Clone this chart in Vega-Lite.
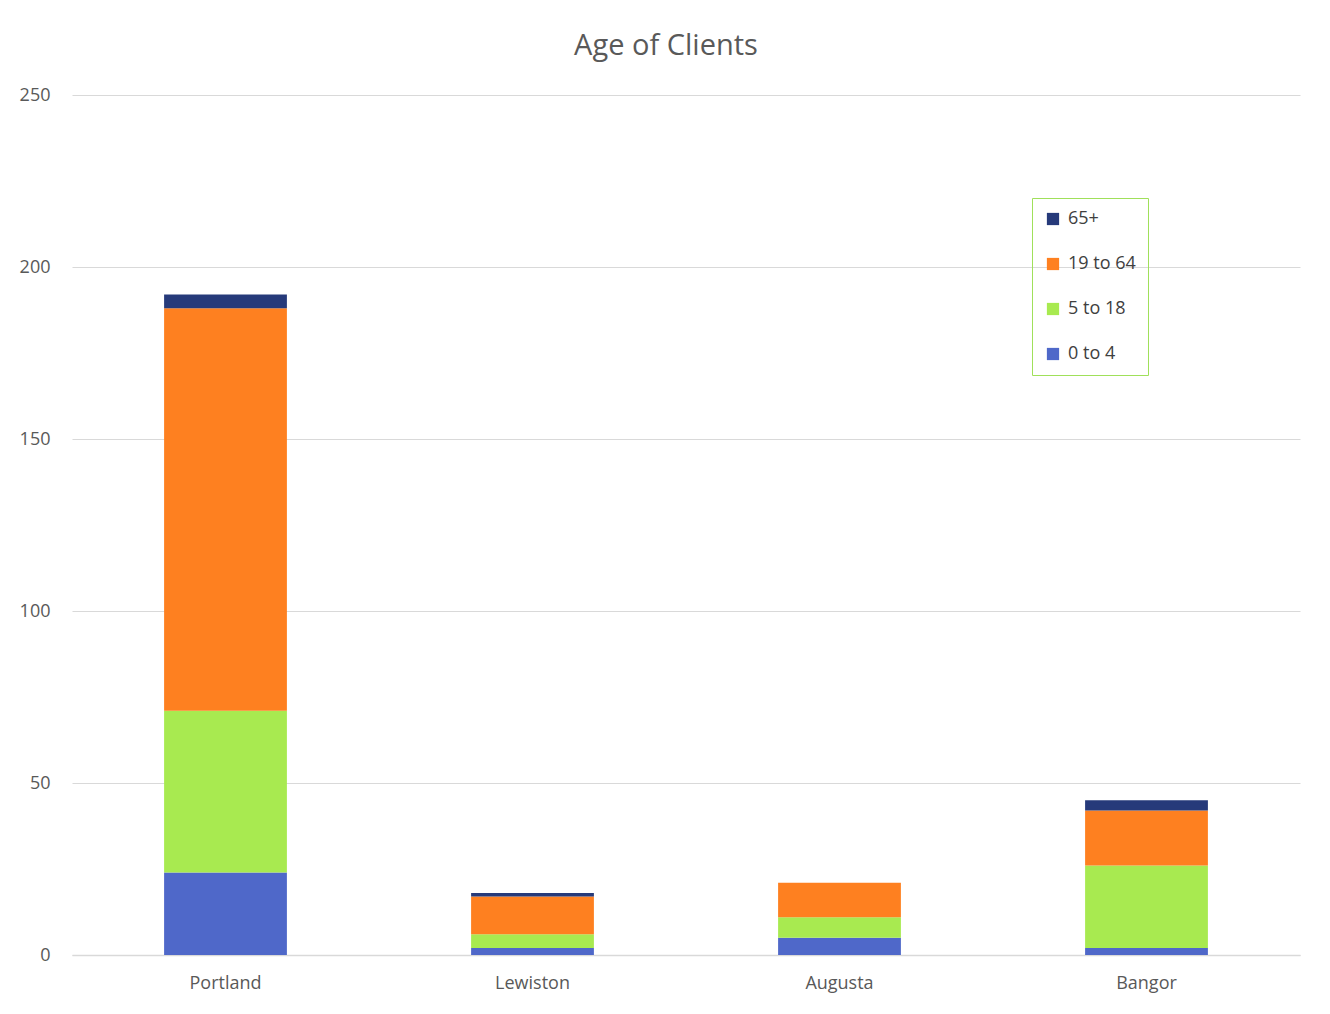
{
  "$schema": "https://vega.github.io/schema/vega-lite/v6.json",
  "width": 1228,
  "height": 860,
  "autosize": {"type": "none"},
  "padding": {"left": 72, "top": 95, "right": 30, "bottom": 59},
  "background": "white",
  "title": {
    "text": "Age of Clients",
    "font": "Open Sans",
    "fontSize": 29,
    "fontWeight": "normal",
    "color": "#595959",
    "anchor": "middle",
    "dx": -20,
    "offset": 25
  },
  "data": {
    "values": [
      {"city": "Portland", "age": "0 to 4", "clients": 24},
      {"city": "Portland", "age": "5 to 18", "clients": 47},
      {"city": "Portland", "age": "19 to 64", "clients": 117},
      {"city": "Portland", "age": "65+", "clients": 4},
      {"city": "Lewiston", "age": "0 to 4", "clients": 2},
      {"city": "Lewiston", "age": "5 to 18", "clients": 4},
      {"city": "Lewiston", "age": "19 to 64", "clients": 11},
      {"city": "Lewiston", "age": "65+", "clients": 1},
      {"city": "Augusta", "age": "0 to 4", "clients": 5},
      {"city": "Augusta", "age": "5 to 18", "clients": 6},
      {"city": "Augusta", "age": "19 to 64", "clients": 10},
      {"city": "Augusta", "age": "65+", "clients": 0},
      {"city": "Bangor", "age": "0 to 4", "clients": 2},
      {"city": "Bangor", "age": "5 to 18", "clients": 24},
      {"city": "Bangor", "age": "19 to 64", "clients": 16},
      {"city": "Bangor", "age": "65+", "clients": 3}
    ]
  },
  "transform": [
    {"calculate": "indexof(['0 to 4','5 to 18','19 to 64','65+'], datum.age)", "as": "stackOrder"}
  ],
  "mark": {"type": "bar"},
  "encoding": {
    "x": {
      "field": "city",
      "type": "nominal",
      "sort": ["Portland", "Lewiston", "Augusta", "Bangor"],
      "scale": {"paddingInner": 0.6, "paddingOuter": 0.3},
      "axis": {
        "title": null,
        "labelAngle": 0,
        "ticks": false,
        "domainColor": "#d9d9d9",
        "domainWidth": 1.5,
        "labelFont": "Open Sans",
        "labelFontSize": 18,
        "labelColor": "#595959",
        "labelPadding": 19
      }
    },
    "y": {
      "field": "clients",
      "type": "quantitative",
      "stack": "zero",
      "scale": {"domain": [0, 250], "nice": false},
      "axis": {
        "title": null,
        "values": [0, 50, 100, 150, 200, 250],
        "domain": false,
        "ticks": false,
        "gridColor": "#d9d9d9",
        "gridWidth": 1.2,
        "labelFont": "Open Sans",
        "labelFontSize": 18,
        "labelColor": "#595959",
        "labelPadding": 22
      }
    },
    "color": {
      "field": "age",
      "type": "nominal",
      "scale": {
        "domain": ["65+", "19 to 64", "5 to 18", "0 to 4"],
        "range": ["#263a7a", "#fe8020", "#a8ea50", "#4f68c9"]
      },
      "legend": {
        "title": null,
        "orient": "none",
        "legendX": 960,
        "legendY": 103,
        "symbolType": "square",
        "symbolSize": 150,
        "symbolStrokeWidth": 0,
        "labelFont": "Open Sans",
        "labelFontSize": 18,
        "labelColor": "#404040",
        "rowPadding": 27,
        "padding": 12,
        "strokeColor": "#a0e05a",
        "labelOffset": 6
      }
    },
    "order": {"field": "stackOrder", "type": "quantitative", "sort": "ascending"}
  },
  "config": {
    "view": {"stroke": null}
  }
}
